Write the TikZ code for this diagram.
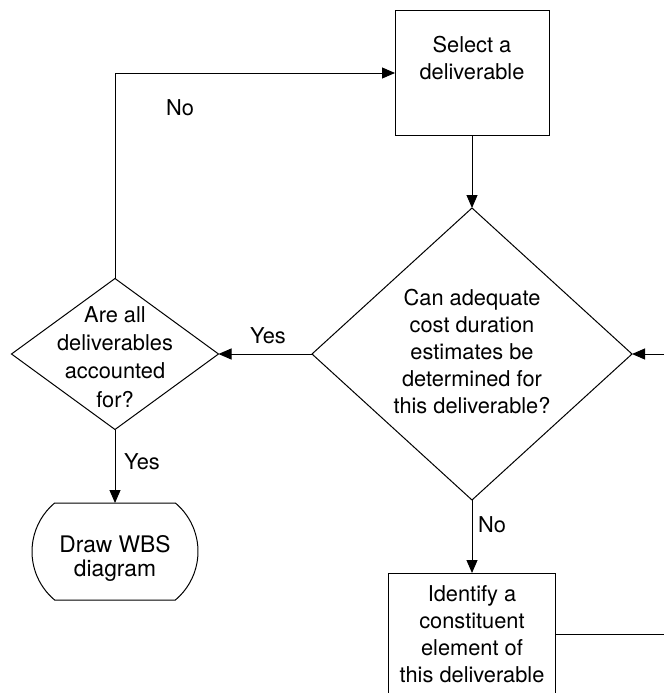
\documentclass[tikz,border=0pt]{standalone}
\usepackage{fontspec}
\setmainfont{TeX Gyre Heros}
\usetikzlibrary{shapes.geometric,shapes.misc,arrows.meta}
\begin{document}
\begin{tikzpicture}[x=1pt,y=-1pt,
  every node/.style={font=\fontsize{21.8}{27}\selectfont, align=center},
  conn/.style={line width=1pt},
  flow/.style={conn,-{Triangle[length=13pt,width=11pt]}},
  stepbox/.style={draw, line width=1pt, rectangle, inner sep=0pt, outer sep=0pt},
  decision/.style={draw, line width=1pt, diamond, inner sep=0pt, outer sep=0pt},
  terminal/.style={draw, line width=1pt, rounded rectangle,
    rounded rectangle arc length=100, inner sep=0pt, outer sep=0pt},
  edgelabel/.style={inner sep=0pt}
]
\useasboundingbox (0,0) rectangle (664,693);
\clip (0,0) rectangle (664,693);

% process boxes, decisions and the end terminal
\node[stepbox, minimum width=154pt, minimum height=124pt,
  label={[yshift=15pt]center:Select a\\deliverable}] (select) at (472,73) {};
\node[decision, minimum width=320pt, minimum height=292pt,
  label={[yshift=2.5pt]center:Can adequate\\cost duration\\estimates be\\determined for\\this deliverable?}] (estim) at (472,354) {};
\node[decision, minimum width=207pt, minimum height=151pt,
  label={[yshift=-3pt, font=\fontsize{21.8}{28.3}\selectfont]center:Are all\\deliverables\\accounted\\for?}] (allacc) at (115,354) {};
\node[terminal, minimum width=166pt, minimum height=97pt,
  label={[yshift=-7pt, font=\fontsize{22.8}{24}\selectfont]center:Draw WBS\\diagram}] (wbs) at (115,551.5) {};
\node[stepbox, minimum width=167pt, minimum height=122pt] (ident) at (472,634)
  {Identify a\\constituent\\element of\\this deliverable};

% loose ends of the loop back from the constituent element
\coordinate (loopin) at (664,354);
\coordinate (loopout) at (664,634);

% connectors
\draw[flow] (select.south) -- (estim.north);
\draw[flow] (estim.west) -- (allacc.east);
\draw[flow] (allacc.north) |- (select.west);
\draw[flow] (allacc.south) -- (wbs.north);
\draw[flow] (estim.south) -- (ident.north);
\draw[flow] (loopin) -- (estim.east);
\draw[conn] (ident.east) -- (loopout);

% connector labels
\node[edgelabel] (yesacc) at (268,336) {Yes};
\node[edgelabel] (noacc) at (180,108) {No};
\node[edgelabel] (yesdraw) at (142,462) {Yes};
\node[edgelabel] (noest) at (492,525) {No};
\end{tikzpicture}
\end{document}
